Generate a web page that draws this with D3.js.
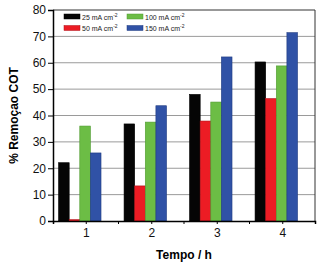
<!DOCTYPE html>
<html><head><meta charset="utf-8">
<script src="https://cdn.jsdelivr.net/npm/d3@7"></script>
<style>body{margin:0;background:#fff}svg{display:block}text{font-family:"Liberation Sans",Arial,sans-serif}</style>
</head><body><svg id="c" width="321" height="266"></svg>
<script>
const categories = [1, 2, 3, 4];
const seriesNames = ["25 mA cm", "50 mA cm", "100 mA cm", "150 mA cm"];
const s25  = [22.1, 36.8, 48.0, 60.3];
const s50  = [0.5, 13.3, 37.9, 46.4];
const s100 = [36.0, 37.5, 45.1, 58.8];
const s150 = [25.8, 43.7, 62.2, 71.4];
const yTicks = [0, 10, 20, 30, 40, 50, 60, 70, 80];
const colors = ["#050505", "#ec1c24", "#6cbd45", "#3052a6"];
const strokes = ["#000", "#b01018", "#4f9a30", "#1f3b80"];
const series = [s25, s50, s100, s150];

const svg = d3.select("#c");
const L = 53, R = 315, T = 10, B = 221;
const x = d3.scaleLinear().domain([0.5, 4.5]).range([L, R]);
const y = d3.scaleLinear().domain([0, 80]).range([B, T]);

// gridlines
svg.append("g").selectAll("line").data(yTicks.filter(d => d > 0 && d < 80)).join("line")
  .attr("x1", L).attr("x2", R).attr("y1", d => y(d)).attr("y2", d => y(d))
  .attr("stroke", "#9a9a9a").attr("stroke-width", 1);

// bars
const bw = 0.162, off = -0.415;
series.forEach((s, i) => {
  svg.append("g").selectAll("rect").data(categories).join("rect")
    .attr("x", (c) => x(c + off + i * bw))
    .attr("width", x(bw) - x(0))
    .attr("y", (c, j) => y(s[j]))
    .attr("height", (c, j) => y(0) - y(s[j]))
    .attr("fill", colors[i]).attr("stroke", strokes[i]).attr("stroke-width", 0.6);
});

// frame
svg.append("line").attr("x1", L).attr("x2", R).attr("y1", T).attr("y2", T).attr("stroke", "#333").attr("stroke-width", 1);
svg.append("line").attr("x1", R).attr("x2", R).attr("y1", T).attr("y2", B).attr("stroke", "#333").attr("stroke-width", 1);

// y axis
const ya = svg.append("g").attr("transform", `translate(${L},0)`)
  .call(d3.axisLeft(y).tickValues(yTicks).tickSize(5).tickPadding(2));
ya.select(".domain").attr("stroke", "#000").attr("stroke-width", 1.5);
ya.selectAll(".tick line").attr("stroke", "#000").attr("stroke-width", 1);
ya.selectAll("text").attr("font-size", 12).attr("fill", "#111");

// x axis
const xa = svg.append("g").attr("transform", `translate(0,${B})`)
  .call(d3.axisBottom(x).tickValues(categories).tickSize(3).tickPadding(4).tickFormat(d3.format("d")));
xa.select(".domain").attr("stroke", "#000").attr("stroke-width", 1.5);
xa.selectAll(".tick line").attr("stroke", "#000");
xa.selectAll("text").attr("font-size", 12).attr("fill", "#111");
svg.append("g").selectAll("line").data([1.5, 2.5, 3.5]).join("line")
  .attr("x1", d => x(d)).attr("x2", d => x(d)).attr("y1", B).attr("y2", B + 3)
  .attr("stroke", "#000");

// axis titles
svg.append("text").attr("transform", `translate(18,${(T + B) / 2}) rotate(-90)`)
  .attr("text-anchor", "middle").attr("font-size", 12).attr("font-weight", "bold").text("% Remoçao COT");
svg.append("text").attr("x", (L + R) / 2).attr("y", 259)
  .attr("text-anchor", "middle").attr("font-size", 12).attr("font-weight", "bold").text("Tempo / h");

// legend
const leg = [[64, 14], [64, 25.5], [127, 14], [127, 25.5]];
series.forEach((s, i) => {
  const g = svg.append("g").attr("transform", `translate(${leg[i][0]},${leg[i][1]})`);
  g.append("rect").attr("width", 16).attr("height", 5).attr("fill", colors[i]).attr("stroke", strokes[i]).attr("stroke-width", 0.5);
  const t = g.append("text").attr("x", 18).attr("y", 5.5).attr("font-size", 7).attr("fill", "#222");
  t.append("tspan").text(seriesNames[i]);
  t.append("tspan").attr("dy", -3).attr("font-size", 5).text("-2");
});
</script></body></html>
